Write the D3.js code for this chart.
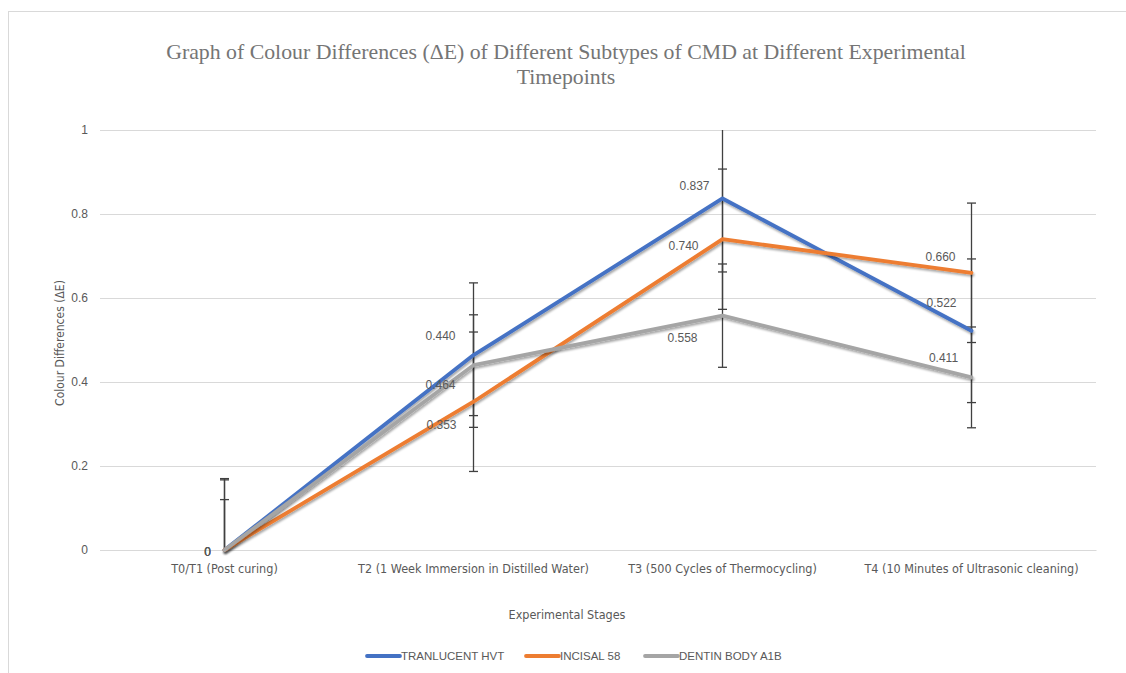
<!DOCTYPE html>
<html>
<head>
<meta charset="utf-8">
<script src="https://cdn.jsdelivr.net/npm/d3@7"></script>
<style>
  html, body { margin: 0; padding: 0; background: #fff; }
  svg { display: block; }
</style>
</head>
<body>
<svg id="chart" width="1126" height="673"></svg>
<script>
// chart values
const stages = [
  'T0/T1 (Post curing)',
  'T2 (1 Week Immersion in Distilled Water)',
  'T3 (500 Cycles of Thermocycling)',
  'T4 (10 Minutes of Ultrasonic cleaning)',
];
const seriesNames = ['TRANLUCENT HVT', 'INCISAL 58', 'DENTIN BODY A1B'];
const translucentHvt = [0, 0.464, 0.837, 0.522];
const incisal58 = [0, 0.353, 0.740, 0.660];
const dentinBodyA1b = [0, 0.440, 0.558, 0.411];
const translucentErr = [0.17, 0.172, 0.175, 0.171];
const incisalErr = [0.167, 0.166, 0.167, 0.166];
const dentinErr = [0.12, 0.12, 0.123, 0.12];
const yTickValues = [0, 0.2, 0.4, 0.6, 0.8, 1];

// label texts as printed on the chart
const translucentLabels = ['0', '0.464', '0.837', '0.522'];
const incisalLabels = ['0', '0.353', '0.740', '0.660'];
const dentinLabels = ['0', '0.440', '0.558', '0.411'];

const colors = ['#4472C4', '#ED7D31', '#A5A5A5'];
// where each data label sits relative to its point (as placed in the original)
const labelOffsets = [
  [[-17, 2], [-33, 30], [-28, -12], [-30, -28]],
  [[-17, 2], [-32, 23], [-39, 7], [-31, -16]],
  [[-17, 2], [-33, -29], [-40, 22], [-28, -19]],
];

const series = [
  { name: seriesNames[0], values: translucentHvt, err: translucentErr, labels: translucentLabels },
  { name: seriesNames[1], values: incisal58, err: incisalErr, labels: incisalLabels },
  { name: seriesNames[2], values: dentinBodyA1b, err: dentinErr, labels: dentinLabels },
];

const width = 1126;
const height = 673;
const margin = { top: 130, right: 30, bottom: 123, left: 100 };
const textGrey = '#595959';
const narrow = '"Liberation Sans Narrow", "DejaVu Sans Condensed", sans-serif';
const sans = '"Liberation Sans", Arial, sans-serif';

const svg = d3.select('#chart');

svg.append('rect')
  .attr('x', 8.5).attr('y', 11.5)
  .attr('width', 1130).attr('height', 670)
  .attr('fill', '#fff')
  .attr('stroke', '#d9d9d9');

const defs = svg.append('defs');
defs.append('clipPath').attr('id', 'plot-clip')
  .append('rect')
  .attr('x', margin.left).attr('y', margin.top)
  .attr('width', width - margin.left - margin.right)
  .attr('height', height - margin.top - margin.bottom);
defs.append('filter').attr('id', 'shadow')
  .attr('x', '-5%').attr('y', '-5%').attr('width', '110%').attr('height', '120%')
  .append('feDropShadow')
  .attr('dx', 1).attr('dy', 2).attr('stdDeviation', 1.3)
  .attr('flood-color', '#000').attr('flood-opacity', 0.35);

const x = d3.scaleBand()
  .domain(stages)
  .range([margin.left, width - margin.right])
  .padding(0);
const xc = (d) => x(d) + x.bandwidth() / 2;

const y = d3.scaleLinear()
  .domain([0, 1])
  .range([height - margin.bottom, margin.top]);

// title
svg.append('text')
  .attr('x', 566).attr('y', 59)
  .attr('text-anchor', 'middle')
  .attr('font-family', '"Liberation Serif", "Times New Roman", serif')
  .attr('font-size', '21.8px')
  .attr('fill', '#757575')
  .selectAll('tspan')
  .data([
    'Graph of Colour Differences (\u0394E) of Different Subtypes of CMD at Different Experimental',
    'Timepoints',
  ])
  .join('tspan')
  .attr('x', 566)
  .attr('dy', (d, i) => (i ? 25 : 0))
  .text((d) => d);

// y axis with gridlines
svg.append('g')
  .attr('transform', `translate(${margin.left},0)`)
  .call(
    d3.axisLeft(y)
      .tickValues(yTickValues)
      .tickFormat(d3.format('~g'))
      .tickSize(-(width - margin.left - margin.right))
      .tickPadding(12)
  )
  .call((g) => g.select('.domain').remove())
  .call((g) => g.selectAll('.tick line').attr('stroke', '#d9d9d9'))
  .call((g) =>
    g.selectAll('.tick text')
      .attr('fill', textGrey)
      .attr('font-family', sans)
      .attr('font-size', '12px')
  );

// x axis
svg.append('g')
  .attr('transform', `translate(0,${height - margin.bottom})`)
  .call(d3.axisBottom(x).tickSize(0).tickPadding(14))
  .call((g) => g.select('.domain').attr('stroke', '#d9d9d9'))
  .call((g) =>
    g.selectAll('.tick text')
      .attr('fill', textGrey)
      .attr('font-family', narrow)
      .attr('font-size', '12.5px')
  );

// axis titles
svg.append('text')
  .attr('transform', `translate(64,343) rotate(-90)`)
  .attr('text-anchor', 'middle')
  .attr('font-family', narrow)
  .attr('font-size', '12px')
  .attr('fill', textGrey)
  .text('Colour Differences (\u0394E)');

svg.append('text')
  .attr('x', 567).attr('y', 619)
  .attr('text-anchor', 'middle')
  .attr('font-family', narrow)
  .attr('font-size', '12.5px')
  .attr('fill', textGrey)
  .text('Experimental Stages');

// error bars
const errG = svg.append('g').attr('clip-path', 'url(#plot-clip)');
series.forEach((s) => {
  const g = errG.append('g');
  s.values.forEach((v, i) => {
    const cx = xc(stages[i]);
    const lo = y(v - s.err[i]);
    const hi = y(v + s.err[i]);
    g.append('line')
      .attr('x1', cx).attr('x2', cx)
      .attr('y1', lo).attr('y2', hi)
      .attr('stroke', '#404040').attr('stroke-width', 1.3);
    [lo, hi].forEach((cy) => {
      g.append('line')
        .attr('x1', cx - 4.5).attr('x2', cx + 4.5)
        .attr('y1', cy).attr('y2', cy)
        .attr('stroke', '#404040').attr('stroke-width', 1.3);
    });
  });
});

// series lines
const line = d3.line()
  .x((d, i) => xc(stages[i]))
  .y((d) => y(d));

svg.append('g')
  .selectAll('path')
  .data(series)
  .join('path')
  .attr('d', (d) => line(d.values))
  .attr('fill', 'none')
  .attr('stroke', (d, i) => colors[i])
  .attr('stroke-width', 3.8)
  .attr('stroke-linejoin', 'round')
  .attr('stroke-linecap', 'round')
  .attr('filter', 'url(#shadow)');

// data labels
series.forEach((s, si) => {
  svg.append('g')
    .selectAll('text')
    .data(s.values)
    .join('text')
    .attr('x', (d, i) => xc(stages[i]) + labelOffsets[si][i][0])
    .attr('y', (d, i) => y(d) + labelOffsets[si][i][1])
    .attr('text-anchor', 'middle')
    .attr('dominant-baseline', 'central')
    .attr('font-family', sans)
    .attr('font-size', '12px')
    .attr('fill', textGrey)
    .text((d, i) => s.labels[i]);
});

// legend
const legendPos = [367, 526, 645];
const legend = svg.append('g')
  .selectAll('g')
  .data(series)
  .join('g')
  .attr('transform', (d, i) => `translate(${legendPos[i]},656)`);
legend.append('line')
  .attr('x1', 0).attr('x2', 33)
  .attr('stroke', (d, i) => colors[i])
  .attr('stroke-width', 3.8)
  .attr('stroke-linecap', 'round');
legend.append('text')
  .attr('x', 34)
  .attr('dominant-baseline', 'central')
  .attr('font-family', sans)
  .attr('font-size', '11.5px')
  .attr('fill', textGrey)
  .text((d) => d.name);
</script>
</body>
</html>
